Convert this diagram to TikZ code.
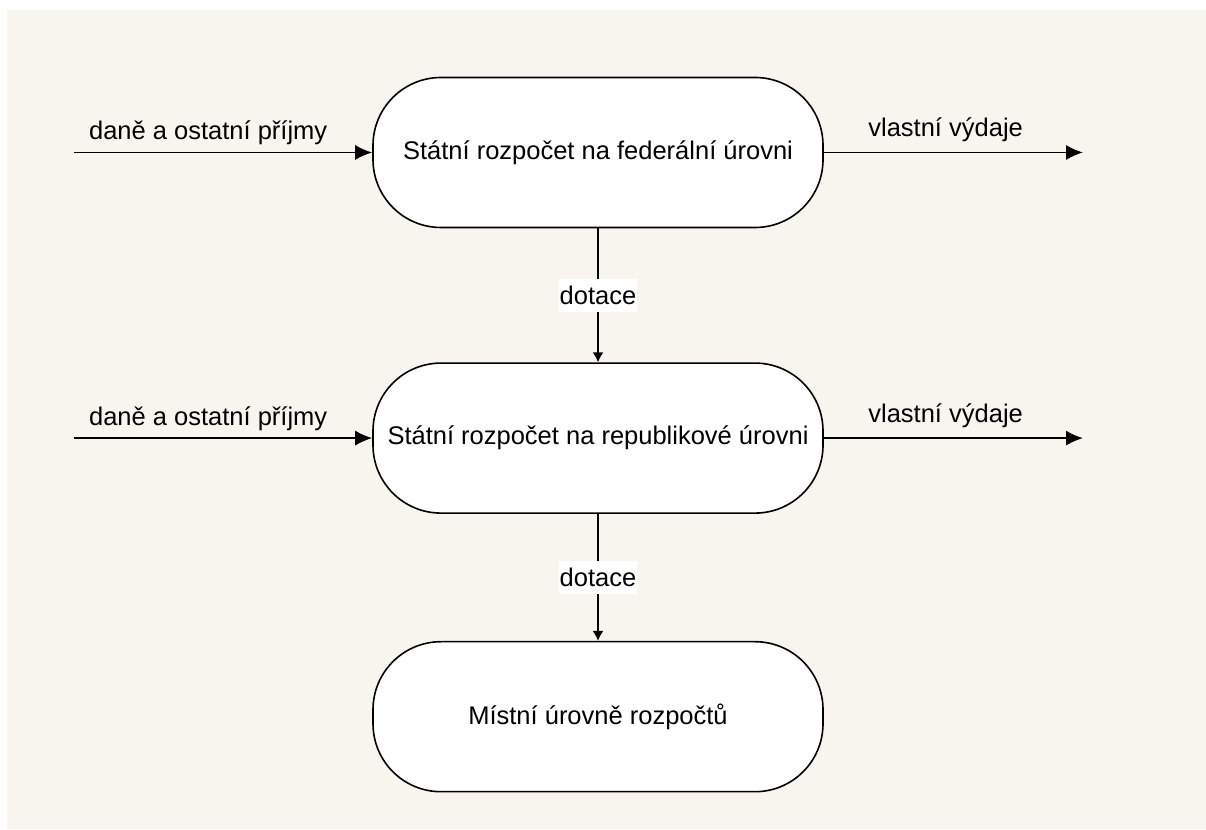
\documentclass[tikz,border=0pt]{standalone}
\usepackage{fontspec}
\setmainfont{Liberation Sans}
\usetikzlibrary{positioning,arrows.meta}
\definecolor{pozadi}{HTML}{F8F5EF}
\newcommand{\pismo}{\fontsize{25.5}{30}\selectfont}

\begin{document}
\begin{tikzpicture}[x=1pt,y=1pt,
    rozpocet/.style={draw,line width=1.6pt,fill=white,rounded corners=68pt,
      minimum width=450pt,minimum height=150pt,font=\pismo},
    tok/.style={line width=1.6pt,-{Latex[length=17pt,width=15pt]}},
    dolu/.style={line width=1.6pt,-{Latex[length=10pt,width=11pt]}},
    popis/.style={font=\pismo,inner sep=0pt},
    stitek/.style={popis,fill=white,inner xsep=1pt,minimum height=33pt}]
  \fill[white] (0,0) rectangle (1206,829);
  \fill[pozadi] (7,0) rectangle (1206,819);

  \node[rozpocet] (fed) at (598,676.5) {Státní rozpočet na federální úrovni};
  \node[rozpocet,below=134pt of fed] (rep) {Státní rozpočet na republikové úrovni};
  \node[rozpocet,below=127pt of rep] (mist) {Místní úrovně rozpočtů};

  \coordinate (vstup1) at (74,0 |- fed.west);
  \coordinate (vydej1) at (1083,0 |- fed.east);
  \coordinate (vstup2) at (74,0 |- rep.west);
  \coordinate (vydej2) at (1083,0 |- rep.east);

  \draw[tok] (vstup1) -- node[popis,pos=0.45,above=7pt] {daně a ostatní příjmy} (fed.west);
  \draw[tok] (fed.east) -- node[popis,pos=0.47,above=10pt] {vlastní výdaje} (vydej1);
  \draw[tok] (vstup2) -- node[popis,pos=0.45,above=7pt] {daně a ostatní příjmy} (rep.west);
  \draw[tok] (rep.east) -- node[popis,pos=0.47,above=10pt] {vlastní výdaje} (vydej2);

  \draw[dolu] (fed.south) -- node[stitek] {dotace} (rep.north);
  \draw[dolu] (rep.south) -- node[stitek] {dotace} (mist.north);
\end{tikzpicture}
\end{document}
